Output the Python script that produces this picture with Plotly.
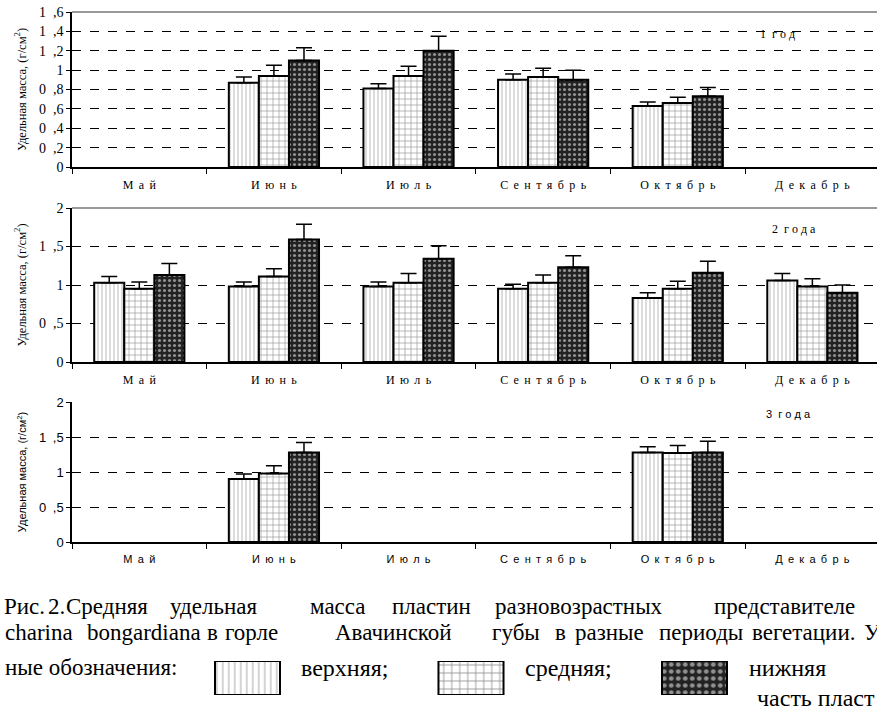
import plotly.graph_objects as go

# ---------------- data ----------------
months = ["Май", "Июнь", "Июль", "Сентябрь", "Октябрь", "Декабрь"]
month_labels = ["М а й", "И ю н ь", "И ю л ь", "С е н т я б р ь", "О к т я б р ь", "Д е к а б р ь"]
series_names = ["верхняя", "средняя", "нижняя"]

# panel 1: 1 год
p1_upper = [None, 0.87, 0.81, 0.90, 0.63, None]
p1_upper_err = [None, 0.06, 0.05, 0.06, 0.04, None]
p1_middle = [None, 0.94, 0.94, 0.93, 0.66, None]
p1_middle_err = [None, 0.11, 0.10, 0.09, 0.06, None]
p1_lower = [None, 1.10, 1.20, 0.90, 0.73, None]
p1_lower_err = [None, 0.13, 0.15, 0.10, 0.09, None]

# panel 2: 2 года
p2_upper = [1.03, 0.98, 0.98, 0.95, 0.83, 1.06]
p2_upper_err = [0.08, 0.06, 0.06, 0.06, 0.07, 0.09]
p2_middle = [0.95, 1.11, 1.03, 1.03, 0.95, 0.98]
p2_middle_err = [0.09, 0.10, 0.12, 0.10, 0.10, 0.10]
p2_lower = [1.13, 1.59, 1.34, 1.23, 1.16, 0.90]
p2_lower_err = [0.15, 0.20, 0.17, 0.15, 0.15, 0.10]

# panel 3: 3 года
p3_upper = [None, 0.90, None, None, 1.28, None]
p3_upper_err = [None, 0.07, None, None, 0.08, None]
p3_middle = [None, 0.98, None, None, 1.27, None]
p3_middle_err = [None, 0.11, None, None, 0.11, None]
p3_lower = [None, 1.28, None, None, 1.28, None]
p3_lower_err = [None, 0.14, None, None, 0.16, None]

p1_ticks = [0, 0.2, 0.4, 0.6, 0.8, 1.0, 1.2, 1.4, 1.6]
p1_ticktext = ["0", "0 ,2", "0 ,4", "0 ,6", "0 ,8", "1", "1 ,2", "1 ,4", "1 ,6"]
p23_ticks = [0, 0.5, 1.0, 1.5, 2.0]
p23_ticktext = ["0", "0 ,5", "1", "1 ,5", "2"]

legend_pos = [0, 1, 2]
legend_val = [1, 1, 1]

# ---------------- styling ----------------
W, H = 877, 713
SERIF = "Liberation Serif"
NARROW = "Liberation Sans"
CAPTION = "Liberation Serif"


def spaced(s, sep):
    return s.replace(" ", sep)


month_disp = [spaced(m, " \u2009") for m in month_labels]
p1_disp = [spaced(t, "\u2002") for t in p1_ticktext]
p23_disp = [spaced(t, "\u2002") for t in p23_ticktext]

patterns = [
    dict(shape="|", fgcolor="#8a8a8a", bgcolor="white", size=4, solidity=0.3),
    dict(shape="+", fgcolor="#222222", bgcolor="white", size=6, solidity=0.2),
    dict(shape=".", fgcolor="white", bgcolor="#222222", size=5, solidity=0.3),
]


def ydom(top_px, bot_px):
    return [1 - bot_px / H, 1 - top_px / H]


fig = go.Figure()

panels = [
    ("x", "y", [p1_upper, p1_middle, p1_lower], [p1_upper_err, p1_middle_err, p1_lower_err]),
    ("x2", "y2", [p2_upper, p2_middle, p2_lower], [p2_upper_err, p2_middle_err, p2_lower_err]),
    ("x3", "y3", [p3_upper, p3_middle, p3_lower], [p3_upper_err, p3_middle_err, p3_lower_err]),
]

for xa, ya, vals, errs in panels:
    for i in range(3):
        fig.add_trace(go.Bar(
            x=months, y=vals[i], name=series_names[i], xaxis=xa, yaxis=ya,
            showlegend=False,
            marker=dict(color="white", line=dict(color="black", width=2), pattern=patterns[i]),
            error_y=dict(type="data", array=errs[i], arrayminus=[0] * len(errs[i]),
                         symmetric=False, color="black", thickness=1.5, width=8),
        ))

# legend swatches in caption
fig.add_trace(go.Bar(
    x=legend_pos, y=legend_val, xaxis="x4", yaxis="y4", width=0.291, showlegend=False,
    marker=dict(color="white", line=dict(color="black", width=2),
                pattern=dict(shape=[p["shape"] for p in patterns],
                             fgcolor=[p["fgcolor"] for p in patterns],
                             bgcolor=[p["bgcolor"] for p in patterns],
                             size=[6, 8, 7],
                             solidity=[0.25, 0.2, 0.35])),
    hoverinfo="skip",
))

xdom = [72 / W, 1]
common_x = dict(type="category", categoryorder="array", categoryarray=months,
                range=[-0.5, 5.48], showline=True, linecolor="black", linewidth=1.5,
                ticks="outside", tickson="boundaries", ticklen=5, tickcolor="black",
                tickvals=months, ticktext=month_disp, showgrid=False, zeroline=False,
                ticklabelstandoff=6, automargin=False)
common_y = dict(showline=True, linecolor="black", linewidth=1.5, ticks="outside", ticklen=4,
                tickcolor="black", showgrid=True, gridcolor="black", gridwidth=1,
                griddash="dash", zeroline=False, automargin=False)

ytitle = "Удельная масса, (г/см<sup>2</sup>)"

fig.update_layout(
    width=W, height=H, autosize=False,
    font=dict(family=SERIF, color="black"),
    margin=dict(l=0, r=0, t=0, b=0, autoexpand=False),
    paper_bgcolor="white", plot_bgcolor="white",
    barmode="group", bargap=0.33, bargroupgap=0,
    xaxis=dict(common_x, domain=xdom, anchor="y", tickfont=dict(family=SERIF, size=12, color="black")),
    xaxis2=dict(common_x, domain=xdom, anchor="y2", tickfont=dict(family=SERIF, size=12, color="black")),
    xaxis3=dict(common_x, domain=xdom, anchor="y3", tickfont=dict(family=NARROW, size=11, color="black")),
    yaxis=dict(common_y, domain=ydom(12, 167), anchor="x", range=[0, 1.6],
               tickvals=p1_ticks, ticktext=p1_disp,
               tickfont=dict(family=SERIF, size=14, color="black"),
               title=dict(text=ytitle, font=dict(family=SERIF, size=12.5, color="black"), standoff=10)),
    yaxis2=dict(common_y, domain=ydom(208, 362), anchor="x2", range=[0, 2],
                tickvals=p23_ticks, ticktext=p23_disp,
                tickfont=dict(family=SERIF, size=14, color="black"),
                title=dict(text=ytitle, font=dict(family=SERIF, size=12.5, color="black"), standoff=10)),
    yaxis3=dict(common_y, domain=ydom(402, 542), anchor="x3", range=[0, 2],
                tickvals=p23_ticks, ticktext=p23_disp,
                tickfont=dict(family=NARROW, size=13, color="black"),
                title=dict(text=ytitle, font=dict(family=NARROW, size=11, color="black"), standoff=10)),
    xaxis4=dict(domain=[135.75 / W, 806.25 / W], anchor="y4", range=[-0.5, 2.5], visible=False),
    yaxis4=dict(domain=ydom(661, 695), anchor="x4", range=[0, 1], visible=False),
)

shapes = []
for ya, xa in [("y", "x"), ("y2", "x2")]:
    shapes.append(dict(type="line", xref=f"{xa} domain", yref=f"{ya} domain",
                       x0=0, x1=1, y0=1, y1=1, line=dict(color="#777777", width=1.5), layer="above"))
fig.update_layout(shapes=shapes)

ann = []
NB = "\u00a0"
ann.append(dict(text="1" + NB + NB + "г о д", x=797 / W, y=1 - 25 / H, xref="paper", yref="paper",
                showarrow=False, font=dict(family=SERIF, size=12, color="black")))
ann.append(dict(text="2" + NB + NB + "г о д а", x=818 / W, y=1 - 220 / H, xref="paper", yref="paper",
                showarrow=False, font=dict(family=SERIF, size=12, color="black")))
ann.append(dict(text="3" + NB + NB + "г о д а", x=813 / W, y=1 - 414 / H, xref="paper", yref="paper",
                showarrow=False, font=dict(family=NARROW, size=11, color="black")))

cap_font = dict(family=CAPTION, size=23, color="black")
line1 = [("Рис.", 2), ("2.", 46), ("Средняя", 64), ("удельная", 168), ("масса", 308),
         ("пластин", 390), ("разновозрастных", 493), ("представителе", 712)]
line2 = [("charina", 3), ("bongardiana", 85), ("в", 205), ("горле", 223), ("Авачинской", 333),
         ("губы", 490), ("в", 553), ("разные", 573), ("периоды", 657), ("вегетации.", 750), ("У", 862)]
for words, yc in [(line1, 606), (line2, 632)]:
    for w, xl in words:
        ann.append(dict(text=w, x=xl / W, y=1 - yc / H, xref="paper", yref="paper",
                        xanchor="left", yanchor="middle", showarrow=False, font=cap_font))
ann.append(dict(text="ные обозначения:", x=3 / W, y=1 - 667 / H, xref="paper", yref="paper",
                xanchor="left", yanchor="middle", showarrow=False, font=cap_font))
leg_font = dict(family=SERIF, size=24, color="black")
for w, xl, yc in [("верхняя;", 299, 668), ("средняя;", 523, 668), ("нижняя", 747, 668),
                  ("часть пласт", 755, 698)]:
    ann.append(dict(text=w, x=xl / W, y=1 - yc / H, xref="paper", yref="paper",
                    xanchor="left", yanchor="middle", showarrow=False, font=leg_font))
fig.update_layout(annotations=ann)

fig.write_html("out.html", post_script="document.body.style.margin='0px';",
               config={"displayModeBar": False})
